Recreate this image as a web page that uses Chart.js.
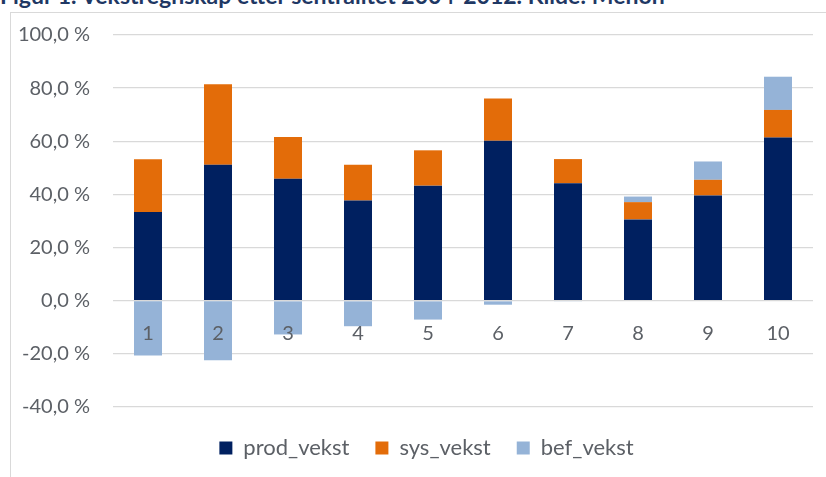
<!DOCTYPE html>
<html lang="no">
<head>
    <meta charset="UTF-8" />
    <title>Vekstregnskap etter sentralitet</title>
    <style>
        body {
            margin: 0;
            width: 826px;
            height: 477px;
            overflow: hidden;
            background: #fff;
            font-family: Lato, "Open Sans", sans-serif;
        }
        #title {
            position: absolute;
            left: 0;
            top: -16px;
            font-size: 23px;
            line-height: 23px;
            font-weight: bold;
            color: #1f3864;
            white-space: nowrap;
        }
        #frame {
            position: absolute;
            left: 10px;
            top: 12px;
            width: 830px;
            height: 480px;
            border: 1px solid #d9d9d9;
        }
        #wrap {
            position: absolute;
            left: 0;
            top: 0;
            width: 826px;
            height: 477px;
        }
    </style>
</head>
<body>
    <div id="title">Figur 1. Vekstregnskap etter sentralitet 2004-2012. Kilde: Menon</div>
    <div id="frame"></div>
    <div id="wrap"><canvas id="chart"></canvas></div>

    <script src="https://cdn.jsdelivr.net/npm/chart.js"></script>
    <script>
        // data (percent)
        const categories = ["1", "2", "3", "4", "5", "6", "7", "8", "9", "10"];
        const prodVekst = [33.4, 51.2, 45.9, 37.7, 43.3, 60.2, 44.2, 30.6, 39.6, 61.4];
        const sysVekst = [19.8, 30.3, 15.7, 13.5, 13.3, 15.9, 9.1, 6.5, 5.9, 10.4];
        const befVekst = [-20.6, -22.4, -12.7, -9.6, -7.1, -1.5, -0.3, 2.1, 6.9, 12.5];

        const gray = "#5c6066";
        const fmt = (v) => v.toFixed(1).replace(".", ",") + " %";

        // legend sits a bit right of centre in the original
        const legendShift = {
            id: "legendShift",
            afterLayout(chart) {
                const lg = chart.legend;
                lg.left += 20;
                lg.right += 20;
                lg.top += 4;
                lg.bottom += 4;
            },
        };

        const ctx = document.getElementById("chart").getContext("2d");
        const chart = new Chart(ctx, {
            type: "bar",
            data: {
                labels: categories,
                datasets: [
                    { label: "prod_vekst", data: prodVekst, backgroundColor: "#002060" },
                    { label: "sys_vekst", data: sysVekst, backgroundColor: "#e36c09" },
                    { label: "bef_vekst", data: befVekst, backgroundColor: "#95b3d7" },
                ],
            },
            options: {
                responsive: true,
                maintainAspectRatio: false,
                animation: false,
                datasets: {
                    bar: { barPercentage: 1, categoryPercentage: 0.4 },
                },
                layout: {
                    padding: { top: 29, right: 13, left: 0, bottom: 12 },
                },
                plugins: {
                    tooltip: { enabled: false },
                    legend: {
                        position: "bottom",
                        labels: {
                            boxWidth: 13,
                            boxHeight: 13,
                            padding: 26,
                            color: gray,
                            font: { family: "Lato", size: 22 },
                        },
                    },
                },
                scales: {
                    x: {
                        stacked: true,
                        position: { y: 0 },
                        grid: { display: false, drawTicks: false },
                        border: { display: false },
                        ticks: {
                            z: 1,
                            padding: 21,
                            color: gray,
                            font: { family: "Lato", size: 20 },
                        },
                    },
                    y: {
                        stacked: true,
                        min: -40,
                        max: 100,
                        afterFit: (scale) => { scale.width = 113; },
                        grid: { color: "#d9d9d9", lineWidth: 1.3, drawTicks: false },
                        border: { display: false },
                        ticks: {
                            stepSize: 20,
                            padding: 23,
                            color: gray,
                            font: { family: "Lato", size: 20 },
                            callback: (v) => fmt(v),
                        },
                    },
                },
            },
            plugins: [legendShift],
        });
    </script>
</body>
</html>
